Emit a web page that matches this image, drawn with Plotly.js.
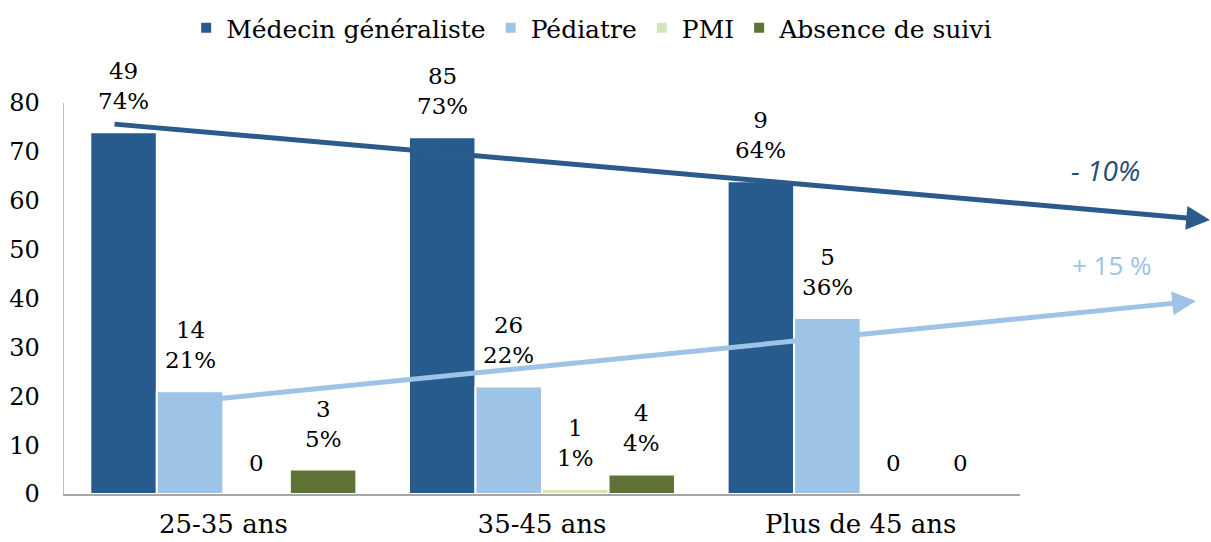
<!DOCTYPE html>
<html>
<head>
<meta charset="utf-8">
<script src="https://cdn.plot.ly/plotly-3.0.1.min.js"></script>
<style>html,body{margin:0;padding:0;background:#fff;}#chart{width:1211px;height:542px;}</style>
</head>
<body>
<div id="chart"></div>
<script>
// ---- data ----
const categories = ["25-35 ans", "35-45 ans", "Plus de 45 ans"];
const seriesNames = ["Médecin généraliste", "Pédiatre", "PMI", "Absence de suivi"];
const pctMedecin = [74, 73, 64];
const pctPediatre = [21, 22, 36];
const pctPMI = [0, 1, 0];
const pctAbsence = [5, 4, 0];
const nMedecin = [49, 85, 9];
const nPediatre = [14, 26, 5];
const nPMI = [0, 1, 0];
const nAbsence = [3, 4, 0];
const yTicks = [0, 10, 20, 30, 40, 50, 60, 70, 80];
const trendLabels = ["- 10%", "+ 15 %"];

const colors = ["#285B8D", "#9DC3E6", "#D6E4BC", "#5F7336"];
const pcts = [pctMedecin, pctPediatre, pctPMI, pctAbsence];
const counts = [nMedecin, nPediatre, nPMI, nAbsence];

const FONT = "DejaVu Serif, Liberation Serif, serif";
const W = 1211, H = 542;
const margin = {l: 64, r: 191, t: 103, b: 48, pad: 0};
const plotW = W - margin.l - margin.r;
const plotH = H - margin.t - margin.b;
const bargap = 0.165;

const traces = seriesNames.map((name, i) => ({
  type: "bar",
  name: name,
  x: categories,
  y: pcts[i],
  marker: {color: colors[i], line: {color: "#ffffff", width: 2}},
  hoverinfo: "skip"
}));

// data labels above bars
const catPx = plotW / categories.length;
const barPx = catPx * (1 - bargap) / seriesNames.length;
const annotations = [];
seriesNames.forEach((name, i) => {
  categories.forEach((c, j) => {
    const n = counts[i][j], p = pcts[i][j];
    annotations.push({
      x: c, y: p, xref: "x", yref: "y",
      xshift: (i - (seriesNames.length - 1) / 2) * barPx,
      yshift: 16,
      yanchor: "bottom", xanchor: "center",
      showarrow: false,
      text: n === 0 ? "0" : n + "<br>" + p + "%",
      font: {family: FONT, size: 23, color: "#000"}
    });
  });
});

// trend arrows (paper coordinates)
const toPX = px => (px - margin.l) / plotW;
const toPY = py => (H - margin.b - py) / plotH;
annotations.push({
  xref: "paper", yref: "paper", x: toPX(1212), y: toPY(220),
  ax: 113 - 1212, ay: 124 - 220, axref: "pixel", ayref: "pixel",
  showarrow: true, arrowhead: 2, arrowsize: 0.95, arrowwidth: 5,
  arrowcolor: "#2A5B8C", standoff: 0, text: ""
});
annotations.push({
  xref: "paper", yref: "paper", x: toPX(1196), y: toPY(301),
  ax: 185 - 1196, ay: 402 - 301, axref: "pixel", ayref: "pixel",
  showarrow: true, arrowhead: 2, arrowsize: 0.95, arrowwidth: 5,
  arrowcolor: "#9DC3E6", standoff: 0, text: ""
});
annotations.push({
  xref: "paper", yref: "paper", x: toPX(1105), y: toPY(170),
  xanchor: "center", yanchor: "middle",
  showarrow: false, text: "<i>" + trendLabels[0] + "</i>",
  font: {family: "Open Sans, Liberation Sans, sans-serif", size: 28, color: "#1F4E79"}
});
annotations.push({
  xref: "paper", yref: "paper", x: toPX(1112), y: toPY(265),
  xanchor: "center", yanchor: "middle",
  showarrow: false, text: trendLabels[1],
  font: {family: "Open Sans, Liberation Sans, sans-serif", size: 26, color: "#9DC3E6"}
});

const layout = {
  width: W, height: H,
  margin: margin,
  paper_bgcolor: "#ffffff",
  plot_bgcolor: "#ffffff",
  barmode: "group",
  bargap: bargap,
  bargroupgap: 0,
  font: {family: FONT, size: 24, color: "#000"},
  showlegend: true,
  legend: {
    orientation: "h",
    xref: "container", yref: "container",
    x: 0.489, xanchor: "center",
    y: 1 - 28 / H, yanchor: "middle",
    font: {family: FONT, size: 25, color: "#000"},
    itemclick: false
  },
  xaxis: {
    type: "category",
    showline: true, linecolor: "#A6A6A6", linewidth: 2,
    showgrid: false, zeroline: false, ticks: "",
    ticklabelstandoff: 6,
    tickfont: {family: FONT, size: 26, color: "#000"}
  },
  yaxis: {
    range: [0, 80],
    tickvals: yTicks,
    showline: true, linecolor: "#BFBFBF", linewidth: 1.5,
    showgrid: false, zeroline: false, ticks: "",
    ticklabelstandoff: 18,
    tickfont: {family: FONT, size: 24, color: "#000"}
  },
  annotations: annotations
};

Plotly.newPlot("chart", traces, layout, {staticPlot: true, displayModeBar: false});
</script>
</body>
</html>
